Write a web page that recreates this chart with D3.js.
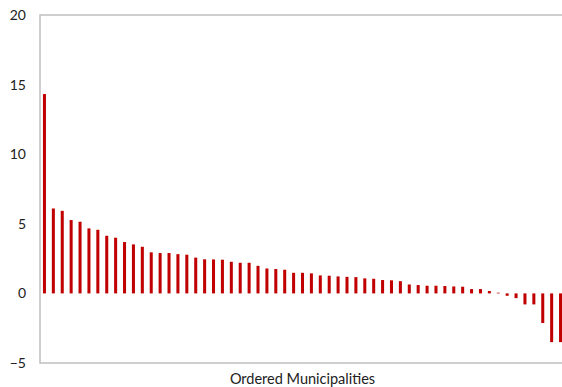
<!DOCTYPE html>
<html>
<head>
<meta charset="utf-8">
<script src="https://cdn.jsdelivr.net/npm/d3@7/dist/d3.min.js"></script>
<style>
  html, body { margin: 0; padding: 0; background: #fff; }
  svg { display: block; }
  .tick text, .x-title { font-family: "Lato", "Noto Sans", sans-serif; fill: #222; }
</style>
</head>
<body>
<svg id="chart" width="562" height="387"></svg>
<script>
// Ordered municipalities
const municipalities = d3.range(1, 60).map(function (i) { return "M" + i; });
const values = [
  14.32, 6.1, 5.93, 5.27, 5.15, 4.67, 4.57, 4.14, 4.0, 3.69,
  3.52, 3.35, 2.95, 2.9, 2.9, 2.82, 2.78, 2.57, 2.45, 2.44,
  2.42, 2.27, 2.2, 2.2, 1.98, 1.79, 1.75, 1.7, 1.48, 1.48,
  1.44, 1.29, 1.27, 1.22, 1.19, 1.17, 1.08, 1.05, 0.96, 0.94,
  0.88, 0.64, 0.6, 0.55, 0.55, 0.53, 0.5, 0.48, 0.31, 0.31,
  0.17, 0.05, -0.17, -0.34, -0.79, -0.79, -2.13, -3.5, -3.5
];
const yTicks = [-5, 0, 5, 10, 15, 20];
const xTitle = "Ordered Municipalities";

(function () {
  "use strict";

  const BAR = "#c00000";
  const FRAME = "#bfbfbf";

  // plot box — right edge runs past the window, as in the reference
  const X0 = 40, X1 = 565, Y0 = 15, Y1 = 363;

  const svg = d3.select("#chart");

  const x = d3.scaleBand()
    .domain(municipalities)
    .range([X0, X1])
    .paddingInner(0.66)
    .paddingOuter(0.33);

  const y = d3.scaleLinear()
    .domain([-5, 20])
    .range([Y1, Y0]);

  // frame
  svg.append("rect")
    .attr("x", X0).attr("y", Y0)
    .attr("width", X1 - X0).attr("height", Y1 - Y0)
    .attr("fill", "none")
    .attr("stroke", FRAME)
    .attr("stroke-width", 1.5);

  // bars from zero
  svg.append("g")
    .selectAll("rect")
    .data(values)
    .join("rect")
    .attr("x", function (d, i) { return x(municipalities[i]); })
    .attr("width", x.bandwidth())
    .attr("y", function (d) { return y(Math.max(0, d)); })
    .attr("height", function (d) { return Math.abs(y(d) - y(0)); })
    .attr("fill", BAR);

  // y axis labels only
  const yAxis = svg.append("g")
    .attr("transform", "translate(" + X0 + ",0)")
    .call(d3.axisLeft(y).tickValues(yTicks).tickSize(0).tickPadding(14));
  yAxis.select(".domain").remove();
  yAxis.selectAll(".tick text")
    .attr("font-size", 14)
    .attr("fill", "#222");

  // x title
  svg.append("text")
    .attr("class", "x-title")
    .attr("x", (X0 + X1) / 2)
    .attr("y", 384)
    .attr("text-anchor", "middle")
    .attr("font-size", 14.5)
    .text(xTitle);
})();
</script>
</body>
</html>
